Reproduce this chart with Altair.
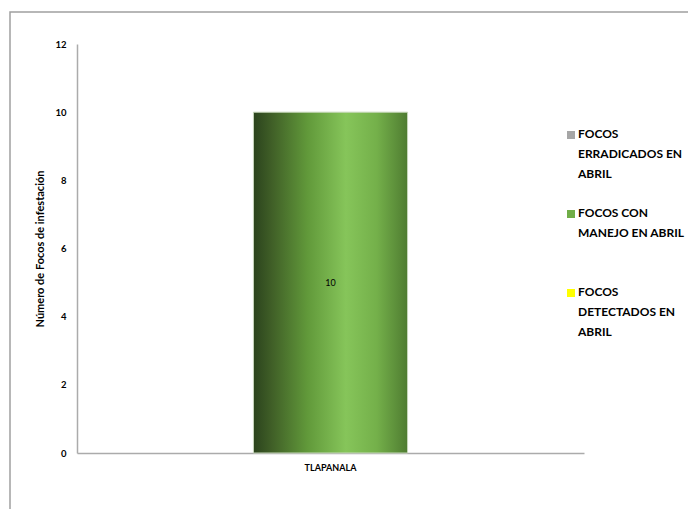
import altair as alt
import pandas as pd

categories = ["TLAPANALA"]
series = ["FOCOS|ERRADICADOS EN|ABRIL", "FOCOS CON|MANEJO EN ABRIL| ", "FOCOS|DETECTADOS EN|ABRIL"]
series_colors = ["#a6a6a6", "#70ad47", "#ffff00"]
values = [0, 10, 0]
y_ticks = [0, 2, 4, 6, 8, 10, 12]

df = pd.DataFrame({
    "municipio": categories * len(series),
    "serie": series,
    "valor": values,
})

FONT = "Lato"

grad = alt.LinearGradient(
    gradient="linear",
    x1=0, x2=1, y1=0, y2=0,
    stops=[
        alt.GradientStop(offset=0.0, color="#2b431d"),
        alt.GradientStop(offset=0.12, color="#405f27"),
        alt.GradientStop(offset=0.35, color="#61993a"),
        alt.GradientStop(offset=0.6, color="#86c55a"),
        alt.GradientStop(offset=0.8, color="#74b04a"),
        alt.GradientStop(offset=1.0, color="#4f7c31"),
    ],
)

x_enc = alt.X(
    "municipio:N",
    title=None,
    scale=alt.Scale(paddingInner=0, paddingOuter=0),
    axis=alt.Axis(
        labelAngle=0, labelFont=FONT, labelFontSize=9, labelFontWeight="bold",
        labelColor="#000000", ticks=False, labelPadding=10,
        domainColor="#ababab", domainWidth=1.5,
    ),
)
y_enc = alt.Y(
    "valor:Q",
    title="Número de Focos de infestación",
    scale=alt.Scale(domain=[0, 12], nice=False),
    axis=alt.Axis(
        values=y_ticks, grid=False, ticks=False, labelPadding=11,
        labelFont=FONT, labelFontSize=9.5, labelFontWeight="bold", labelColor="#000000",
        titleFont=FONT, titleFontSize=11, titleFontWeight="bold", titleColor="#000000",
        titlePadding=9, domainColor="#ababab", domainWidth=1.5,
    ),
)

base = alt.Chart(df)

bars = base.transform_filter("datum.valor > 0").mark_bar(
    color=grad, stroke="#c8d8bc", strokeWidth=1,
    width=alt.RelativeBandSize(0.304),
).encode(x=x_enc, y=y_enc)

labels = base.transform_filter("datum.valor > 0").transform_calculate(
    mid="datum.valor / 2"
).mark_text(font=FONT, fontSize=9, color="#000000").encode(
    x="municipio:N",
    y=alt.Y("mid:Q"),
    text=alt.Text("valor:Q"),
)

legend_layer = base.mark_square(opacity=0).encode(
    x="municipio:N",
    y="valor:Q",
    color=alt.Color(
        "serie:N",
        scale=alt.Scale(domain=series, range=series_colors),
        sort=series,
        legend=alt.Legend(
            title=None, orient="none", legendX=488, legendY=79,
            symbolType="M-1,0.5H1V2.5H-1Z", symbolSize=64, symbolOpacity=1,
            symbolStrokeWidth=0,
            labelExpr="split(datum.label, '|')",
            labelFont=FONT, labelFontSize=12, labelFontWeight="bold", labelColor="#000000",
            labelLimit=400, labelOffset=1, labelBaseline="top",
            rowPadding=22,
        ),
    ),
)

border = alt.Chart(pd.DataFrame({"k": [0]})).mark_rect(
    fillOpacity=0, stroke="#a0a0a0", strokeWidth=1.5
).encode(
    x=alt.value(-67), x2=alt.value(700), y=alt.value(-32), y2=alt.value(700)
)

chart = alt.layer(border, bars, labels, legend_layer).properties(
    width=507, height=409,
    autosize=alt.AutoSizeParams(type="none"),
    padding={"left": 69, "top": 36, "right": 104, "bottom": 56},
).configure(
    style={"guide-label": {"lineHeight": 20}},
    view=alt.ViewConfig(stroke="transparent"),
)

chart.save("out.html", embed_options={"renderer": "svg", "actions": False})
